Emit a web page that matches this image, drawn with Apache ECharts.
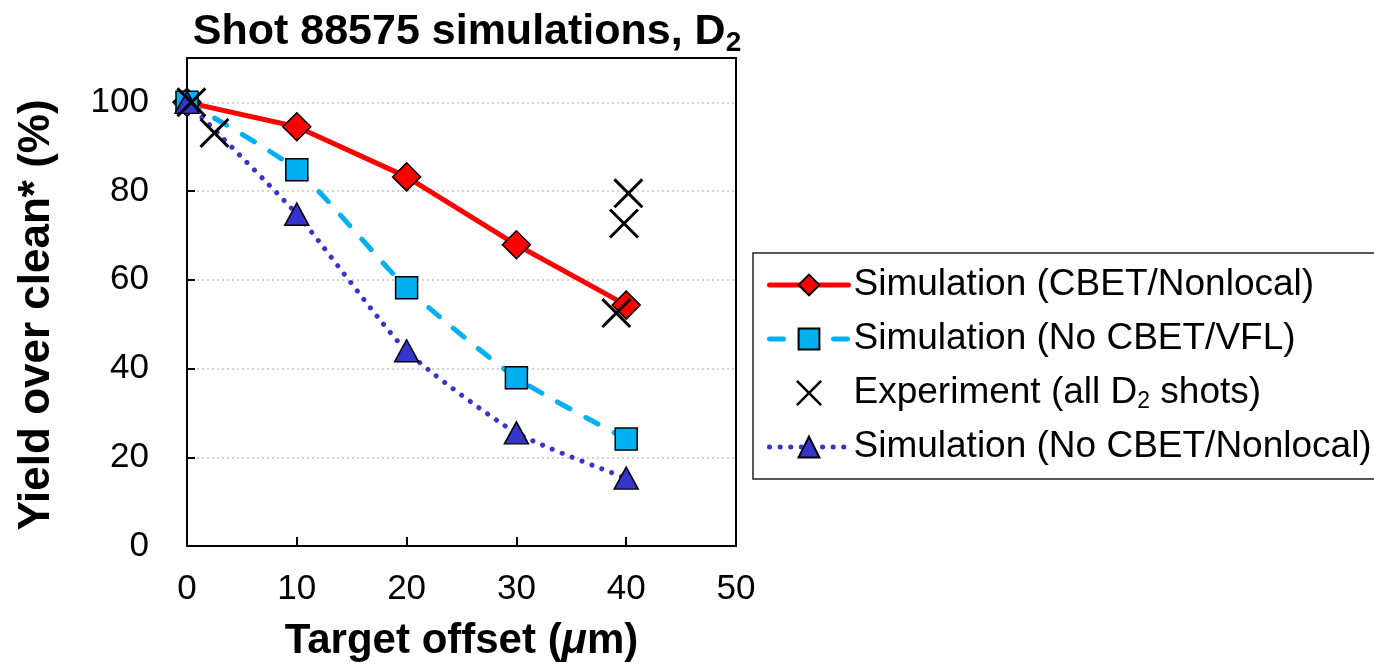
<!DOCTYPE html>
<html><head><meta charset="utf-8">
<script src="https://cdn.jsdelivr.net/npm/echarts@6/dist/echarts.min.js"></script>
<style>html,body{margin:0;padding:0;background:#fff}#c{width:1374px;height:668px}</style>
</head><body><div id="c"></div>
<script>
// ---- data ----
const offsets = [0, 10, 20, 30, 40];
const cbetNonlocal = [100, 94.5, 83.2, 67.9, 54.3];
const noCbetVfl = [100, 84.8, 58.2, 37.9, 24.1];
const noCbetNonlocal = [100, 74.8, 44.0, 25.5, 15.3];
const experimentX = [0.4, 2.5, 40.2, 39.8, 39.1];
const experimentY = [100, 93.1, 79.5, 72.7, 52.5];
const seriesNames = [
  'Simulation (CBET/Nonlocal)',
  'Simulation (No CBET/VFL)',
  'Experiment (all D2 shots)',
  'Simulation (No CBET/Nonlocal)'
];
const titleText = 'Shot 88575 simulations, D{sub|2}';
const xName = 'Target offset ({mu|\u03bc}m)';
const yName = 'Yield over clean* (%)';

const FONT = "'Liberation Sans', Arial, sans-serif";
const pair = (xs, ys) => xs.map((x, i) => [x, ys[i]]);
const X_PATH = 'path://M0,0.7L0.7,0L5,4.3L9.3,0L10,0.7L5.7,5L10,9.3L9.3,10L5,5.7L0.7,10L0,9.3L4.3,5Z';

const chart = echarts.init(document.getElementById('c'), null, {renderer: 'canvas'});
chart.setOption({
  animation: false,
  backgroundColor: '#fff',
  title: {
    text: titleText,
    left: 462, textAlign: 'center', top: 2,
    textStyle: {
      fontFamily: FONT, fontSize: 43, fontWeight: 'bold', color: '#000', lineHeight: 50,
      rich: {
        sub: {fontFamily: FONT, fontSize: 28, fontWeight: 'bold', color: '#000', lineHeight: 27, verticalAlign: 'bottom'}
      }
    }
  },
  grid: {left: 187, top: 58, width: 549, height: 488, show: false},
  legend: {
    orient: 'vertical', left: 753, top: 253,
    padding: [12, 60, 12, 14],
    itemWidth: 79, itemHeight: 26, itemGap: 14,
    borderColor: '#222', borderWidth: 1.5,
    data: seriesNames,
    lineStyle: {width: 5},
    formatter: n => n === seriesNames[2] ? 'Experiment (all D{sub|2} shots)' : n,
    textStyle: {
      fontFamily: FONT, fontSize: 37, color: '#000', lineHeight: 40,
      rich: {
        sub: {fontFamily: FONT, fontSize: 23, color: '#000', lineHeight: 20, verticalAlign: 'bottom'}
      }
    }
  },
  xAxis: [{
    type: 'value', min: 0, max: 50, interval: 10,
    name: xName, nameLocation: 'middle', nameGap: 74,
    nameTextStyle: {
      fontFamily: FONT, fontSize: 42, fontWeight: 'bold', color: '#000',
      rich: {mu: {fontFamily: FONT, fontSize: 42, fontWeight: 'bold', fontStyle: 'italic', color: '#000'}}
    },
    axisLine: {show: true, onZero: false, lineStyle: {color: '#000', width: 2}},
    axisTick: {show: true, inside: true, length: 9, lineStyle: {color: '#000', width: 2}},
    axisLabel: {fontFamily: FONT, fontSize: 35, color: '#000', margin: 26},
    splitLine: {show: false}
  }, {
    type: 'value', min: 0, max: 50, position: 'top', z: 5,
    axisLine: {show: true, onZero: false, lineStyle: {color: '#000', width: 2}},
    axisTick: {show: false}, axisLabel: {show: false}, splitLine: {show: false}
  }],
  yAxis: [{
    type: 'value', min: 0, max: 110, interval: 20,
    name: yName, nameLocation: 'middle', nameGap: 128, nameRotate: 90,
    nameTextStyle: {fontFamily: FONT, fontSize: 44, fontWeight: 'bold', color: '#000', padding: [0, 26, 0, 0]},
    axisLine: {show: true, onZero: false, lineStyle: {color: '#000', width: 2}},
    axisTick: {show: true, inside: true, length: 8, lineStyle: {color: '#000', width: 2}},
    axisLabel: {fontFamily: FONT, fontSize: 35, color: '#000', margin: 38, showMaxLabel: false},
    splitLine: {show: true, lineStyle: {color: '#c4c4c4', width: 1.5, type: [2, 3]}}
  }, {
    type: 'value', min: 0, max: 110, position: 'right', z: 5,
    axisLine: {show: true, onZero: false, lineStyle: {color: '#000', width: 2}},
    axisTick: {show: false}, axisLabel: {show: false}, splitLine: {show: false}
  }],
  series: [{
    name: seriesNames[0], type: 'line', z: 2,
    data: pair(offsets, cbetNonlocal),
    symbol: 'diamond', symbolSize: 28,
    lineStyle: {color: '#ff0000', width: 5, cap: 'round'},
    itemStyle: {color: '#ff0000', borderColor: '#000', borderWidth: 1.5}
  }, {
    name: seriesNames[1], type: 'line', z: 3, smooth: 0.2,
    data: pair(offsets, noCbetVfl),
    symbol: 'rect', symbolSize: 22,
    lineStyle: {color: '#00b0f0', width: 5, type: [14, 18], cap: 'round'},
    itemStyle: {color: '#00b0f0', borderColor: '#000', borderWidth: 1.5}
  }, {
    name: seriesNames[2], type: 'scatter', z: 6,
    data: pair(experimentX, experimentY),
    symbol: X_PATH, symbolSize: 30,
    itemStyle: {color: '#000', borderWidth: 0, opacity: 1}
  }, {
    name: seriesNames[3], type: 'line', z: 4, smooth: 0.2,
    data: pair(offsets, noCbetNonlocal),
    symbol: 'triangle', symbolSize: [24, 22],
    lineStyle: {color: '#3535cc', width: 5, type: [0.1, 10.5], cap: 'round'},
    itemStyle: {color: '#3535cc', borderColor: '#000', borderWidth: 1.5}
  }]
});
</script>
</body></html>
